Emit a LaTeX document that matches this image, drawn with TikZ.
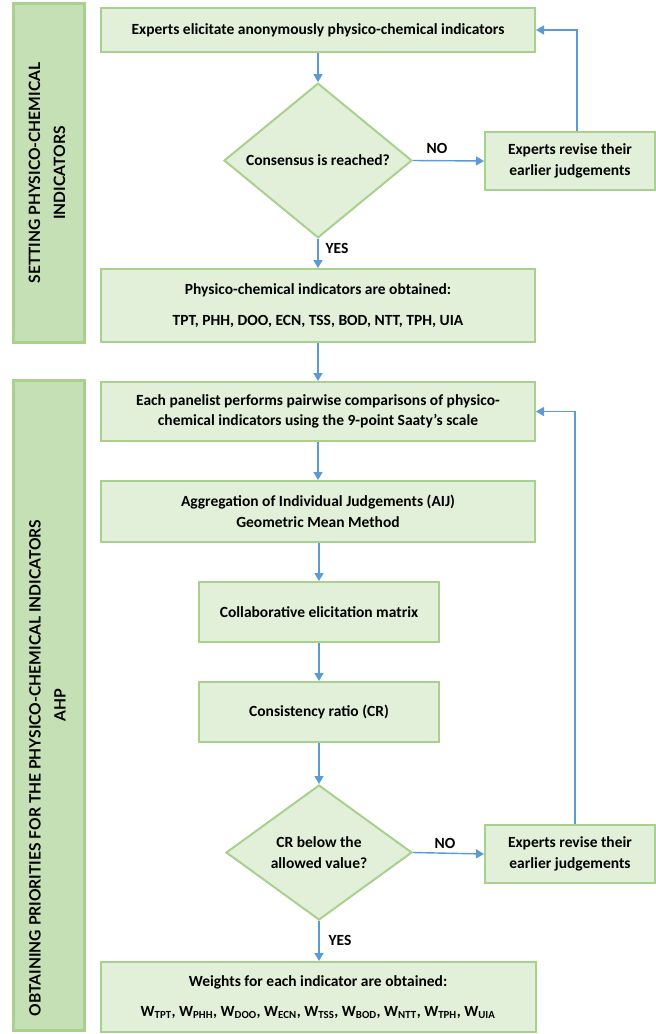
\documentclass[tikz,border=0pt]{standalone}
\usepackage{fontspec}
\setmainfont{Carlito}
\newfontfamily\barfont{Lato}
\usetikzlibrary{shapes.geometric,arrows.meta}
\definecolor{boxfill}{HTML}{E2EFD9}
\definecolor{boxline}{HTML}{A9D18E}
\definecolor{barfill}{HTML}{C5E0B4}
\definecolor{arrowblue}{HTML}{5B9BD5}
\tikzset{
  stepbox/.style={draw=boxline, fill=boxfill, line width=2pt, rectangle, align=center,
    inner sep=0pt, font=\fontsize{15.5}{20.5}\selectfont\bfseries},
  decision/.style={draw=boxline, fill=boxfill, line width=2pt, diamond, align=center,
    inner sep=0pt, font=\fontsize{15.5}{20.5}\selectfont\bfseries},
  sidebar/.style={draw=boxline, fill=barfill, line width=3pt, rectangle, inner sep=0pt},
  bartext/.style={rotate=90, align=center, inner sep=0pt,
    font=\barfont\fontsize{15.6}{25}\selectfont\bfseries},
  flow/.style={draw=arrowblue, line width=1.4pt, -{Triangle[length=8pt,width=9pt]}},
  lbl/.style={inner sep=0pt, font=\fontsize{15.5}{18}\selectfont\bfseries}
}
\begin{document}
\begin{tikzpicture}[x=1pt,y=-1pt]
\useasboundingbox (0,0) rectangle (656,1034);
% side bars
\node[sidebar, minimum width=71pt, minimum height=339pt] (bar1) at (48.5,172.5) {};
\node[bartext] (bar1t) at (47,173) {SETTING PHYSICO-CHEMICAL\\INDICATORS};
\node[sidebar, minimum width=71pt, minimum height=650pt] (bar2) at (48.5,705) {};
\node[bartext] (bar2t) at (35,768) {OBTAINING PRIORITIES FOR THE PHYSICO-CHEMICAL INDICATORS};
\node[bartext] (bar2u) at (60,705) {AHP};
% boxes
\node[stepbox, minimum width=434pt, minimum height=44pt] (top) at (318,30)
  {Experts elicitate anonymously physico-chemical indicators};
\node[decision, minimum width=188pt, minimum height=137pt] (d1) at (318,160.5)
  {Consensus is reached?};
\node[stepbox, minimum width=170pt, minimum height=58pt] (rev1) at (570,161)
  {Experts revise their\\earlier judgements};
\node[stepbox, minimum width=434pt, minimum height=73pt] (box2) at (318,305.5)
  {Physico-chemical indicators are obtained:\\[10pt]TPT, PHH, DOO, ECN, TSS, BOD, NTT, TPH, UIA};
\node[stepbox, minimum width=434pt, minimum height=59pt] (box3) at (318,411.5)
  {Each panelist performs pairwise comparisons of physico-\\chemical indicators using the 9-point Saaty’s scale};
\node[stepbox, minimum width=434pt, minimum height=61pt] (box4) at (318,511.5)
  {Aggregation of Individual Judgements (AIJ)\\Geometric Mean Method};
\node[stepbox, minimum width=240pt, minimum height=60pt] (box5) at (319,612)
  {Collaborative elicitation matrix};
\node[stepbox, minimum width=240pt, minimum height=60pt] (box6) at (319,712)
  {Consistency ratio (CR)};
\node[decision, minimum width=186pt, minimum height=135pt] (d2) at (319,852.5)
  {CR below the\\allowed value?};
\node[stepbox, minimum width=170pt, minimum height=58pt] (rev2) at (570,854)
  {Experts revise their\\earlier judgements};
\node[stepbox, minimum width=435pt, minimum height=70pt] (box7) at (318,997)
  {Weights for each indicator are obtained:\\[10pt]
   W\textsubscript{TPT}, W\textsubscript{PHH}, W\textsubscript{DOO}, W\textsubscript{ECN}, W\textsubscript{TSS}, W\textsubscript{BOD}, W\textsubscript{NTT}, W\textsubscript{TPH}, W\textsubscript{UIA}};
% connectors
\draw[flow] (top.south) -- (d1.north);
\draw[flow] (d1.east) -- (rev1.west);
\draw[flow] (rev1.north -| 577,0) |- (top.east);
\draw[flow] (d1.south) -- (box2.north);
\draw[flow] (box2.south) -- (box3.north);
\draw[flow] (box3.south) -- (box4.north);
\draw[flow] (box4.south -| box5.north) -- (box5.north);
\draw[flow] (box5.south) -- (box6.north);
\draw[flow] (box6.south) -- (d2.north);
\draw[flow] (d2.east) -- (rev2.west);
\draw[flow] (rev2.north -| 575,0) |- (box3.east);
\draw[flow] (d2.south) -- (d2.south |- box7.north);
% labels
\node[lbl] (no1) at (437,148) {NO};
\node[lbl] (yes1) at (337,248) {YES};
\node[lbl] (no2) at (445,843) {NO};
\node[lbl] (yes2) at (340,940) {YES};
\end{tikzpicture}
\end{document}
